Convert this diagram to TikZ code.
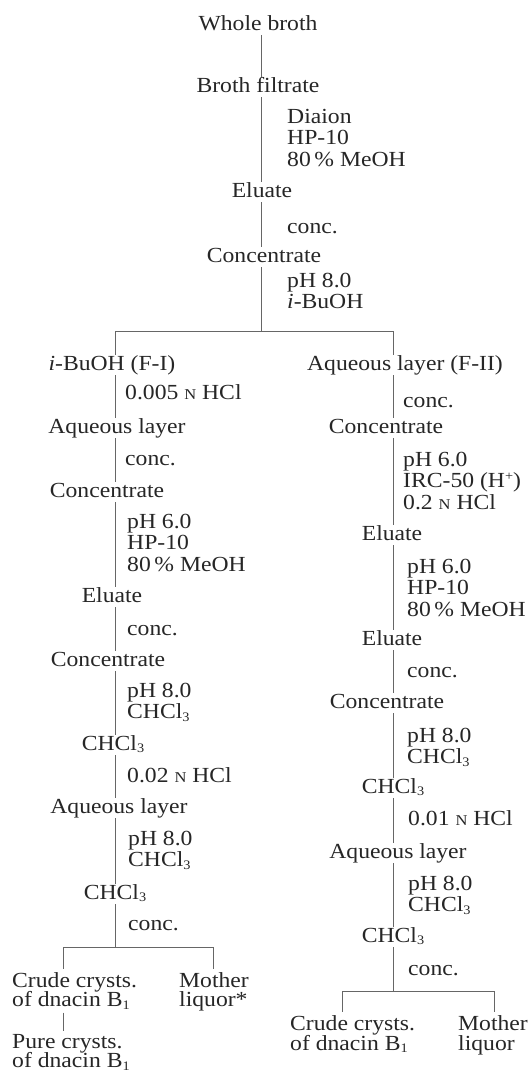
\documentclass[tikz,border=0pt]{standalone}
\usepackage{fontspec}
\setmainfont{Liberation Serif}[FakeStretch=1.1]
\newcommand\sbs[1]{\raisebox{-0.3ex}{\fontsize{13}{13}\selectfont #1}}
\newcommand\sps[1]{\raisebox{0.7ex}{\fontsize{13}{13}\selectfont #1}}
\newcommand\scN{{\fontsize{15}{15}\selectfont N}}
\newcommand\stk[2][21.5pt]{\vtop{\baselineskip=#1\lineskiplimit=-100pt\halign{##\hfil\cr#2\crcr}}}
\begin{document}
\begin{tikzpicture}[x=1pt,y=-1pt,
  every node/.style={font=\fontsize{21.5}{21.5}\selectfont, text=black!85},
  item/.style={anchor=base, inner sep=0pt, text height=15pt, text depth=5pt},
  reag/.style={anchor=base west, inner sep=0pt},
  stack/.style={anchor=base west, inner xsep=0pt, inner ysep=3pt},
  conn/.style={draw=black!60, line width=0.7pt}]
\fill[white] (0,0) rectangle (530,1072);
\useasboundingbox (0,0) rectangle (530,1072);
\coordinate (tA) at (261,0);
\coordinate (tL) at (115,0);
\coordinate (tR) at (393,0);
% main trunk
\node[item] (whole) at (258,30) {Whole broth};
\node[item] (filt) at (258,92) {Broth filtrate};
\node[reag] (r1) at (287,123) {\stk{Diaion\cr HP-10\cr 80\,\% MeOH}};
\node[item] (elu1) at (262,197) {Eluate};
\node[reag] (r2) at (287,233) {conc.};
\node[item] (con1) at (264,262) {Concentrate};
\node[reag] (r3) at (287,287) {\stk{pH 8.0\cr \textit{i}-BuOH}};
\coordinate (b1) at (261,331);
\coordinate (b1L) at (115,331);
\coordinate (b1R) at (393,331);
% left column
\node[item] (ibu) at (112,370) {\textit{i}-BuOH (F-I)};
\node[reag] (r4) at (125,399) {0.005 \scN\ HCl};
\node[item] (aq1) at (117,433) {Aqueous layer};
\node[reag] (r5) at (125,465) {conc.};
\node[item] (con2) at (107,497) {Concentrate};
\node[reag] (r6) at (127,528) {\stk{pH 6.0\cr HP-10\cr 80\,\% MeOH}};
\node[item] (elu2) at (112,602) {Eluate};
\node[reag] (r7) at (127,635) {conc.};
\node[item] (con3) at (108,666) {Concentrate};
\node[reag] (r8) at (127,697) {\stk{pH 8.0\cr CHCl\sbs{3}}};
\node[item] (chl1) at (113,750) {CHCl\sbs{3}};
\node[reag] (r9) at (127,782) {0.02 \scN\ HCl};
\node[item] (aq2) at (119,813) {Aqueous layer};
\node[reag] (r10) at (128,845) {\stk{pH 8.0\cr CHCl\sbs{3}}};
\node[item] (chl2) at (115,899) {CHCl\sbs{3}};
\node[reag] (r11) at (128,930) {conc.};
\coordinate (b2) at (115,947);
\coordinate (b2L) at (63,947);
\coordinate (b2R) at (213,947);
\node[stack] (cru1) at (12,987) {\stk[19.5pt]{Crude crysts.\cr of dnacin B\sbs{1}}};
\node[stack] (mot1) at (179,987) {\stk[19.5pt]{Mother\cr liquor*}};
\node[stack] (pur) at (12,1048) {\stk[19.5pt]{Pure crysts.\cr of dnacin B\sbs{1}}};
% right column
\node[item] (aq3) at (405,370) {Aqueous layer (F-II)};
\node[reag] (r12) at (403,407) {conc.};
\node[item] (con4) at (386,433) {Concentrate};
\node[reag] (r13) at (403,466) {\stk{pH 6.0\cr IRC-50 (H\sps{+})\cr 0.2 \scN\ HCl}};
\node[item] (elu3) at (392,540) {Eluate};
\node[reag] (r14) at (407,573) {\stk{pH 6.0\cr HP-10\cr 80\,\% MeOH}};
\node[item] (elu4) at (392,645) {Eluate};
\node[reag] (r15) at (407,677) {conc.};
\node[item] (con5) at (387,708) {Concentrate};
\node[reag] (r16) at (407,742) {\stk{pH 8.0\cr CHCl\sbs{3}}};
\node[item] (chl3) at (393,793) {CHCl\sbs{3}};
\node[reag] (r17) at (408,825) {0.01 \scN\ HCl};
\node[item] (aq4) at (398,858) {Aqueous layer};
\node[reag] (r18) at (408,890) {\stk{pH 8.0\cr CHCl\sbs{3}}};
\node[item] (chl4) at (393,942) {CHCl\sbs{3}};
\node[reag] (r19) at (408,975) {conc.};
\coordinate (b3) at (393,991);
\coordinate (b3L) at (342,991);
\coordinate (b3R) at (494,991);
\node[stack] (cru2) at (290,1030) {\stk[20pt]{Crude crysts.\cr of dnacin B\sbs{1}}};
\node[stack] (mot2) at (458,1030) {\stk[20pt]{Mother\cr liquor}};
% connectors
\foreach \a/\b in {whole/filt, filt/elu1, elu1/con1}
  \draw[conn] (\a.south -| tA) -- (\b.north -| tA);
\draw[conn] (con1.south -| tA) -- (b1);
\draw[conn] (b1L) -- (b1R);
\draw[conn] (b1L) -- (ibu.north -| tL);
\draw[conn] (b1R) -- (aq3.north -| tR);
\foreach \a/\b in {ibu/aq1, aq1/con2, con2/elu2, elu2/con3, con3/chl1, chl1/aq2, aq2/chl2}
  \draw[conn] (\a.south -| tL) -- (\b.north -| tL);
\draw[conn] (chl2.south -| tL) -- (b2);
\draw[conn] (b2L) -- (b2R);
\draw[conn] (b2L) -- (cru1.north -| b2L);
\draw[conn] (b2R) -- (mot1.north -| b2R);
\draw[conn] (cru1.south -| b2L) -- (pur.north -| b2L);
\foreach \a/\b in {aq3/con4, con4/elu3, elu3/elu4, elu4/con5, con5/chl3, chl3/aq4, aq4/chl4}
  \draw[conn] (\a.south -| tR) -- (\b.north -| tR);
\draw[conn] (chl4.south -| tR) -- (b3);
\draw[conn] (b3L) -- (b3R);
\draw[conn] (b3L) -- (cru2.north -| b3L);
\draw[conn] (b3R) -- (mot2.north -| b3R);
\end{tikzpicture}
\end{document}
